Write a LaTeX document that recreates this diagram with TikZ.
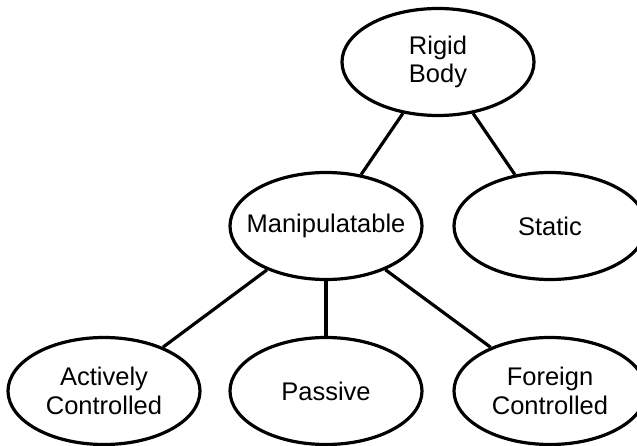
\documentclass[tikz,border=0pt]{standalone}
\usepackage{fontspec}
\setmainfont{Liberation Sans}
\usetikzlibrary{shapes.geometric}
\begin{document}
\begin{tikzpicture}[x=1pt,y=-1pt,
  ell/.style={ellipse,draw,line width=3.2pt,minimum width=192pt,minimum height=107pt,inner sep=0pt},
  txt/.style={align=center,inner sep=0pt,font=\fontsize{25.5}{28.5}\selectfont},
  edge/.style={line width=3.2pt}]
\useasboundingbox (0,0) rectangle (637,446);
\node[ell,label={[txt]center:Rigid\\Body}] (rigid) at (438,62) {};
\node[ell,label={[txt]center:Manipulatable}] (manip) at (326,226) {};
\node[ell,label={[txt]center:Static}] (static) at (550,226) {};
\node[ell,label={[txt]center:Actively\\Controlled}] (active) at (104,391) {};
\node[ell,label={[txt]center:Passive}] (passive) at (326,391) {};
\node[ell,label={[txt]center:Foreign\\Controlled}] (foreign) at (550,391) {};
\draw[edge] (rigid) -- (manip);
\draw[edge] (rigid) -- (static);
\draw[edge] (manip) -- (active);
\draw[edge] (manip) -- (passive);
\draw[edge] (manip) -- (foreign);
\end{tikzpicture}
\end{document}
